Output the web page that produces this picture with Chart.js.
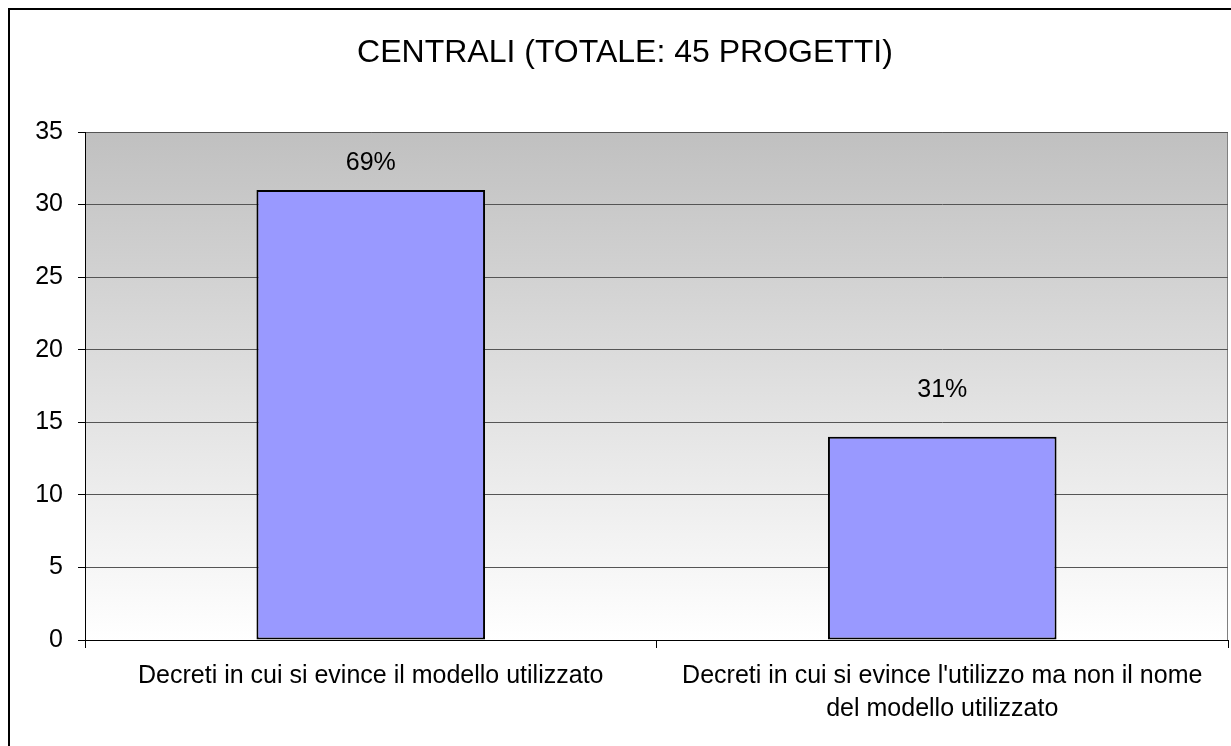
<!DOCTYPE html>
<html>
<head>
<meta charset="utf-8">
<script src="https://cdn.jsdelivr.net/npm/chart.js@4"></script>
<style>
    html, body { margin: 0; padding: 0; background: #ffffff; }
    #wrap { width: 1231px; height: 746px; position: relative; }
</style>
</head>
<body>
<div id="wrap"><canvas id="chart" width="1231" height="746"></canvas></div>
<script>
// Chart data
const chartTitle = 'CENTRALI (TOTALE: 45 PROGETTI)';
const categories = [
    'Decreti in cui si evince il modello utilizzato',
    ["Decreti in cui si evince l'utilizzo ma non il nome", 'del modello utilizzato']
];
const values = [31, 14];
const percentLabels = ['69%', '31%'];
const yTicks = [0, 5, 10, 15, 20, 25, 30, 35];

// Label gap above each bar (px)
const labelGap = [27, 47];

const FONT = '"Liberation Sans", Arial, sans-serif';

// Gradient plot background, title and frame border
const backgroundPlugin = {
    id: 'plotBackground',
    beforeDraw(chart) {
        const { ctx, chartArea: a } = chart;
        ctx.save();
        const g = ctx.createLinearGradient(0, a.top, 0, a.bottom);
        g.addColorStop(0, '#c0c0c0');
        g.addColorStop(1, '#ffffff');
        ctx.fillStyle = g;
        ctx.fillRect(a.left, a.top, a.right - a.left, a.bottom - a.top);
        ctx.strokeStyle = '#808080';
        ctx.lineWidth = 1;
        ctx.beginPath();
        ctx.moveTo(a.left, a.top + 0.5);
        ctx.lineTo(a.right - 0.5, a.top + 0.5);
        ctx.lineTo(a.right - 0.5, a.bottom);
        ctx.stroke();
        ctx.restore();
    },
    afterDraw(chart) {
        const { ctx } = chart;
        ctx.save();
        ctx.fillStyle = '#000000';
        ctx.font = '32px ' + FONT;
        ctx.textAlign = 'center';
        ctx.textBaseline = 'middle';
        ctx.fillText(chartTitle, 625, 53);
        ctx.strokeStyle = '#000000';
        ctx.lineWidth = 2;
        ctx.beginPath();
        ctx.moveTo(9, chart.height + 5);
        ctx.lineTo(9, 9);
        ctx.lineTo(chart.width + 5, 9);
        ctx.stroke();
        ctx.restore();
    }
};

// Percent labels above bars
const percentPlugin = {
    id: 'percentLabels',
    afterDatasetsDraw(chart) {
        const { ctx } = chart;
        const meta = chart.getDatasetMeta(0);
        ctx.save();
        ctx.fillStyle = '#000000';
        ctx.font = '25px ' + FONT;
        ctx.textAlign = 'center';
        ctx.textBaseline = 'middle';
        meta.data.forEach((bar, i) => {
            ctx.fillText(percentLabels[i], bar.x, bar.y - labelGap[i]);
        });
        ctx.restore();
    }
};

const ctx = document.getElementById('chart').getContext('2d');
new Chart(ctx, {
    type: 'bar',
    data: {
        labels: categories,
        datasets: [{
            data: values,
            backgroundColor: '#9999ff',
            borderColor: '#000000',
            borderWidth: 2,
            borderSkipped: false,
            barPercentage: 0.4,
            categoryPercentage: 1
        }]
    },
    options: {
        responsive: false,
        animation: false,
        layout: { padding: { left: 0, right: 3, top: 132, bottom: 0 } },
        plugins: {
            legend: { display: false },
            tooltip: { enabled: false },
            title: { display: false }
        },
        scales: {
            y: {
                min: 0,
                max: 35,
                afterFit(scale) { scale.width = 85; },
                afterBuildTicks(scale) { scale.ticks = yTicks.map(v => ({ value: v })); },
                grid: {
                    color: '#555555',
                    lineWidth: 1,
                    tickColor: '#000000',
                    tickLength: 7
                },
                border: { color: '#000000', width: 1 },
                ticks: {
                    color: '#000000',
                    padding: 15,
                    font: { family: FONT, size: 25 }
                }
            },
            x: {
                afterFit(scale) { scale.height = 106; },
                grid: {
                    offset: true,
                    drawOnChartArea: false,
                    tickColor: '#000000',
                    tickLength: 8
                },
                border: { color: '#000000', width: 1 },
                ticks: {
                    color: '#000000',
                    padding: 12,
                    maxRotation: 0,
                    autoSkip: false,
                    font: { family: FONT, size: 25, lineHeight: 1.32 }
                }
            }
        }
    },
    plugins: [backgroundPlugin, percentPlugin]
});
</script>
</body>
</html>
